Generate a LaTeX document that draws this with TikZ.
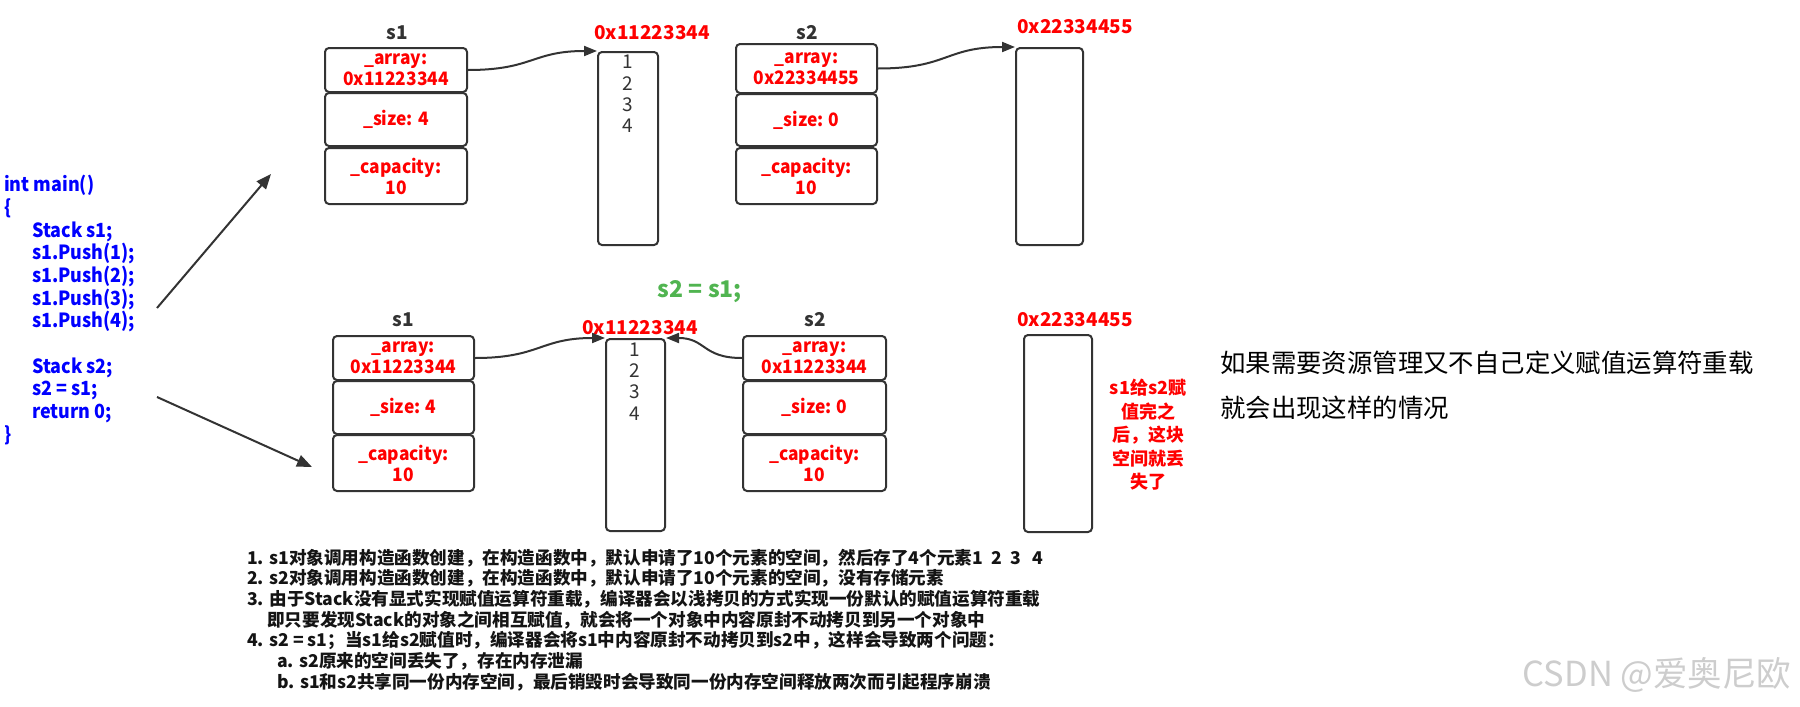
\documentclass[tikz,border=0pt]{standalone}
\usepackage{fontspec}
\setmainfont{Noto Sans CJK SC}
\newfontfamily\codefont[FakeStretch=0.92]{Noto Sans CJK SC}
\newfontfamily\fieldfont[FakeStretch=0.94]{Noto Sans CJK SC}
\usetikzlibrary{arrows.meta}
\definecolor{linegray}{RGB}{51,51,51}
\definecolor{codeblue}{RGB}{0,0,255}
\definecolor{eqgreen}{RGB}{80,180,80}
\definecolor{wmgray}{RGB}{205,205,205}
\definecolor{notecol}{RGB}{20,20,20}
\begin{document}
\begin{tikzpicture}[x=1pt,y=-1pt,
  field/.style={draw=linegray, line width=2pt, rounded corners=4pt, inner sep=0pt,
    align=center, text=red, font=\fieldfont\fontsize{18.5}{21}\selectfont\bfseries},
  mem/.style={draw=linegray, line width=2pt, rounded corners=4pt, inner sep=0pt},
  vals/.style={align=center, text=linegray, font=\fontsize{19}{21.3}\selectfont},
  lbl/.style={text=linegray, font=\fontsize{19}{21}\selectfont\bfseries},
  addr/.style={text=red, font=\fontsize{19}{21}\selectfont\bfseries},
  conn/.style={draw=linegray, line width=2pt, -{Triangle[length=13pt,width=10pt]}},
  bigconn/.style={draw=linegray, line width=2pt, -{Triangle[length=15pt,width=12pt]}}]
\useasboundingbox (0,0) rectangle (1800,707);

% code
\node[anchor=west, align=left, text=codeblue, inner sep=0pt,
  font=\codefont\fontsize{19.5}{22.7}\selectfont\bfseries] (code) at (4,310)
  {int main()\\\{\\\hspace*{28pt}Stack s1;\\\hspace*{28pt}s1.Push(1);\\\hspace*{28pt}s1.Push(2);\\
   \hspace*{28pt}s1.Push(3);\\\hspace*{28pt}s1.Push(4);\\\mbox{}\\\hspace*{28pt}Stack s2;\\
   \hspace*{28pt}s2 = s1;\\\hspace*{28pt}return 0;\\\}};
\coordinate (ca1) at (157,308);
\coordinate (ca1e) at (271,174);
\coordinate (ca2) at (157,397);
\coordinate (ca2e) at (312,467);
\draw[bigconn] (ca1) -- (ca1e);
\draw[bigconn] (ca2) -- (ca2e);

% top s1
\node[lbl] (l1) at (397,33) {s1};
\node[field, minimum width=142pt, minimum height=44pt] (a1) at (396,70) {\_array:\\0x11223344};
\node[field, minimum width=142pt, minimum height=53pt] (z1) at (396,119.5) {\_size: 4};
\node[field, minimum width=142pt, minimum height=56pt] (c1) at (396,176) {\_capacity:\\10};
\node[addr] (ad1) at (652,33) {0x11223344};
\node[mem, minimum width=60pt, minimum height=193pt] (m1) at (628,148.5) {};
\node[vals] (v1) at (628,94) {1\\2\\3\\4};
\draw[conn] (a1.east) .. controls +(65,0) and +(-65,0) .. (m1.north west);

% top s2
\node[lbl] (l2) at (807,33) {s2};
\node[field, minimum width=141pt, minimum height=49pt] (a2) at (806.5,68.5) {\_array:\\0x22334455};
\node[field, minimum width=141pt, minimum height=52pt] (z2) at (806.5,120) {\_size: 0};
\node[field, minimum width=141pt, minimum height=56pt] (c2) at (806.5,176) {\_capacity:\\10};
\node[addr] (ad2) at (1075,27) {0x22334455};
\node[mem, minimum width=67pt, minimum height=197pt] (m2) at (1049.5,146.5) {};
\draw[conn] (a2.east) .. controls +(70,0) and +(-70,0) .. (m2.north west);

% middle
\node[text=eqgreen, font=\fontsize{23}{26}\selectfont\bfseries] (eq) at (700,292) {s2 = s1;};

% bottom s1
\node[lbl] (l3) at (403,320) {s1};
\node[field, minimum width=141pt, minimum height=44pt] (a3) at (403.5,358) {\_array:\\0x11223344};
\node[field, minimum width=141pt, minimum height=53pt] (z3) at (403.5,407.5) {\_size: 4};
\node[field, minimum width=141pt, minimum height=56pt] (c3) at (403.5,463) {\_capacity:\\10};
\node[addr] (ad3) at (640,328) {0x11223344};
\node[mem, minimum width=59pt, minimum height=192pt] (m3) at (635.5,435) {};
\node[vals] (v3) at (635,381.5) {1\\2\\3\\4};
\draw[conn] (a3.east) .. controls +(65,0) and +(-65,0) .. (m3.north west);

% bottom s2
\node[lbl] (l4) at (815,320) {s2};
\node[field, minimum width=143pt, minimum height=44pt] (a4) at (814.5,358) {\_array:\\0x11223344};
\node[field, minimum width=143pt, minimum height=53pt] (z4) at (814.5,407.5) {\_size: 0};
\node[field, minimum width=143pt, minimum height=56pt] (c4) at (814.5,463) {\_capacity:\\10};
\node[addr] (ad4) at (1075,320) {0x22334455};
\node[mem, minimum width=68pt, minimum height=197pt] (m4) at (1058,433.5) {};
\draw[conn] (a4.west) .. controls +(-40,0) and +(40,0) .. (m3.north east);

% red note
\node[align=center, text=red, font=\fontsize{18}{23.5}\selectfont\bfseries] (note) at (1148,435)
  {s1给s2赋\\值完之\\后，这块\\空间就丢\\失了};

% right text
\node[anchor=west, align=left, inner sep=0pt, font=\fontsize{25.4}{45}\selectfont] (rt) at (1220,385.5)
  {如果需要资源管理又不自己定义赋值运算符重载\\就会出现这样的情况};

% bottom notes
\node[anchor=west, align=left, inner sep=0pt, text=notecol,
  font=\fontsize{17.6}{20.7}\selectfont\bfseries] (notes) at (247,620)
  {1. s1对象调用构造函数创建，在构造函数中，默认申请了10个元素的空间，然后存了4个元素1\ \ 2\ \ 3\ \ \ 4\\
   2. s2对象调用构造函数创建，在构造函数中，默认申请了10个元素的空间，没有存储元素\\
   3. 由于Stack没有显式实现赋值运算符重载，编译器会以浅拷贝的方式实现一份默认的赋值运算符重载\\
   \hspace*{20pt}即只要发现Stack的对象之间相互赋值，就会将一个对象中内容原封不动拷贝到另一个对象中\\
   4. s2 = s1；当s1给s2赋值时，编译器会将s1中内容原封不动拷贝到s2中，这样会导致两个问题：\\
   \hspace*{30pt}a. s2原来的空间丢失了，存在内存泄漏\\
   \hspace*{30pt}b. s1和s2共享同一份内存空间，最后销毁时会导致同一份内存空间释放两次而引起程序崩溃};

% watermark
\node[text=wmgray, font=\fontsize{34.5}{38}\selectfont] (wm) at (1657,675) {CSDN @爱奥尼欧};
\end{tikzpicture}
\end{document}
